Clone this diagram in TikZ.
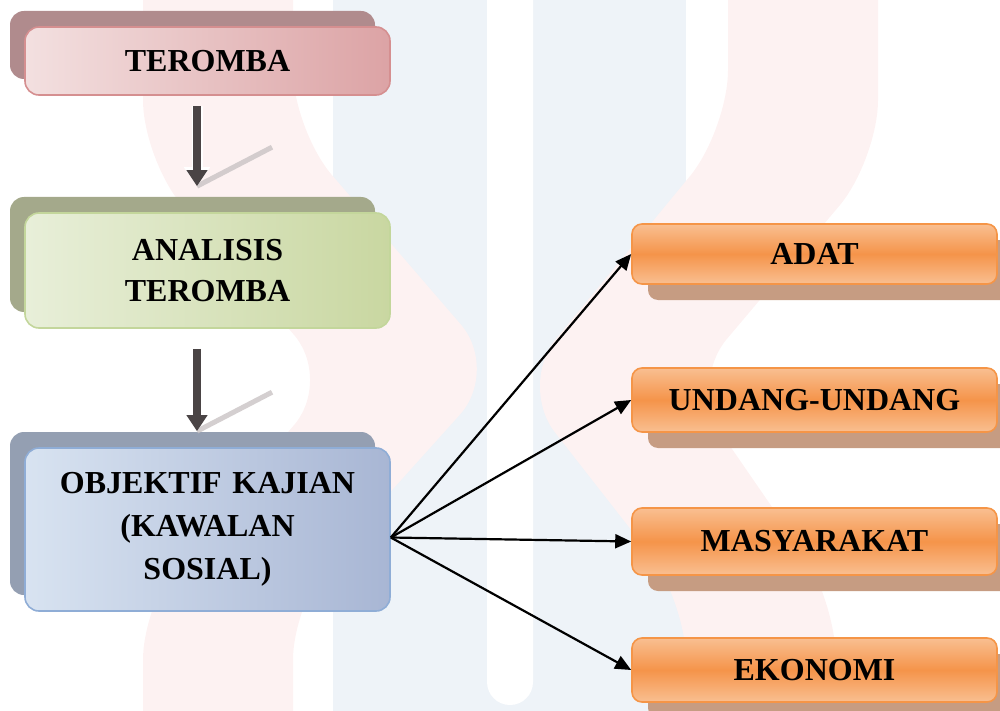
\documentclass[tikz,border=0pt]{standalone}
\usepackage{fontspec}
\setmainfont{Liberation Serif}
\usetikzlibrary{arrows.meta,shadows,calc}
\definecolor{bgblue}{HTML}{EEF3F8}
\definecolor{bgpink}{HTML}{FDF2F2}
\definecolor{pinkL}{HTML}{F3E0E0}
\definecolor{pinkR}{HTML}{DCA3A5}
\definecolor{pinkB}{HTML}{D58F90}
\definecolor{shpink}{HTML}{B08B8D}
\definecolor{greenL}{HTML}{E8EFD9}
\definecolor{greenR}{HTML}{C9D7A1}
\definecolor{greenB}{HTML}{C3D69B}
\definecolor{shgreen}{HTML}{A4A98B}
\definecolor{blueL}{HTML}{D8E3F1}
\definecolor{blueR}{HTML}{A8B6D4}
\definecolor{blueB}{HTML}{8FADD6}
\definecolor{shblue}{HTML}{949FB2}
\definecolor{orgL}{HTML}{F9BF91}
\definecolor{orgM}{HTML}{F5944A}
\definecolor{orgB}{HTML}{F59547}
\definecolor{shorg}{HTML}{C69C82}
\definecolor{arrowgray}{HTML}{4A4445}
\definecolor{shadowgray}{HTML}{C9C3C4}
\begin{document}
\begin{tikzpicture}[x=1pt,y=-1pt,
  boxtext/.style={font=\bfseries\fontsize{32}{41}\selectfont, text=black, align=center, inner sep=0pt},
  lbox/.style={boxtext, rounded corners=14, line width=1.6, minimum width=365, text width=345},
  pinkbox/.style={lbox, draw=pinkB, left color=pinkL, right color=pinkR,
    general shadow={fill=shpink, shadow xshift=-15pt, shadow yshift=16pt}},
  greenbox/.style={lbox, draw=greenB, left color=greenL, right color=greenR,
    general shadow={fill=shgreen, shadow xshift=-15pt, shadow yshift=16pt}},
  bluebox/.style={lbox, draw=blueB, left color=blueL, right color=blueR,
    general shadow={fill=shblue, shadow xshift=-15pt, shadow yshift=16pt}},
  obox/.style={boxtext, rounded corners=10, line width=1.6, minimum width=365, draw=orgB,
    top color=orgL, bottom color=orgL, middle color=orgM,
    general shadow={fill=shorg, shadow xshift=16pt, shadow yshift=-16pt}},
  downarrow/.style={line width=8, arrowgray, -{Triangle[width=20pt,length=16pt]}},
  downhalo/.style={line width=11, white, -{Triangle[width=25pt,length=19pt]}},
  skewshadow/.style={line width=5, shadowgray, opacity=0.8},
  rarrow/.style={line width=2.2, black, -{Triangle[width=14pt,length=16pt]}}
]
\useasboundingbox (0,0) rectangle (1000,711);
% watermark background
\fill[bgblue] (333,0) rectangle (686,711);
\fill[white, rounded corners=23] (487,-40) rectangle (533,705);
\fill[bgpink, rounded corners=60] (143,-80) -- (143,160) -- (333,380) -- (143,600) -- (143,790)
  -- (293,790) -- (293,600) -- (500,370) -- (293,130) -- (293,-80) -- cycle;
\fill[bgpink, rounded corners=60] (728,-80) -- (728,130) -- (518,385) -- (686,600) -- (686,790)
  -- (836,790) -- (836,600) -- (688,385) -- (878,160) -- (878,-80) -- cycle;

% left column
\node[pinkbox, minimum height=68] (t) at (207.5,61) {TEROMBA};
\node[greenbox, minimum height=115] (a) at (207.5,270.5) {ANALISIS\\TEROMBA};
\node[bluebox, minimum height=163, font=\bfseries\fontsize{32}{43}\selectfont] (o) at (207.5,529.5) {OBJEKTIF KAJIAN\\(KAWALAN\\SOSIAL)};

% right column
\node[obox, minimum height=60] (d1) at (814.5,254) {ADAT};
\node[obox, minimum height=64] (d2) at (814.5,400) {UNDANG-UNDANG};
\node[obox, minimum height=67] (d3) at (814.5,541.5) {MASYARAKAT};
\node[obox, minimum height=64] (d4) at (814.5,670) {EKONOMI};

% down arrows
\coordinate (a1s) at ($(t.south)+(-10.5,10)$);
\coordinate (a1e) at ($(a.north)+(-10.5,-26)$);
\coordinate (a1sh) at ($(a1e)+(75,-39)$);
\coordinate (a2s) at ($(a.south)+(-10.5,20)$);
\coordinate (a2e) at ($(o.north)+(-10.5,-16)$);
\coordinate (a2sh) at ($(a2e)+(75,-39)$);
\draw[skewshadow] (a1e) -- (a1sh);
\draw[skewshadow] (a2e) -- (a2sh);
\draw[downhalo] (a1s) -- (a1e);
\draw[downarrow] (a1s) -- (a1e);
\draw[downhalo] (a2s) -- (a2e);
\draw[downarrow] (a2s) -- (a2e);

% fan of arrows
\coordinate (src) at ($(o.east)+(0,8)$);
\draw[rarrow] (src) -- (d1.west);
\draw[rarrow] (src) -- (d2.west);
\draw[rarrow] (src) -- (d3.west);
\draw[rarrow] (src) -- (d4.west);
\end{tikzpicture}
\end{document}
